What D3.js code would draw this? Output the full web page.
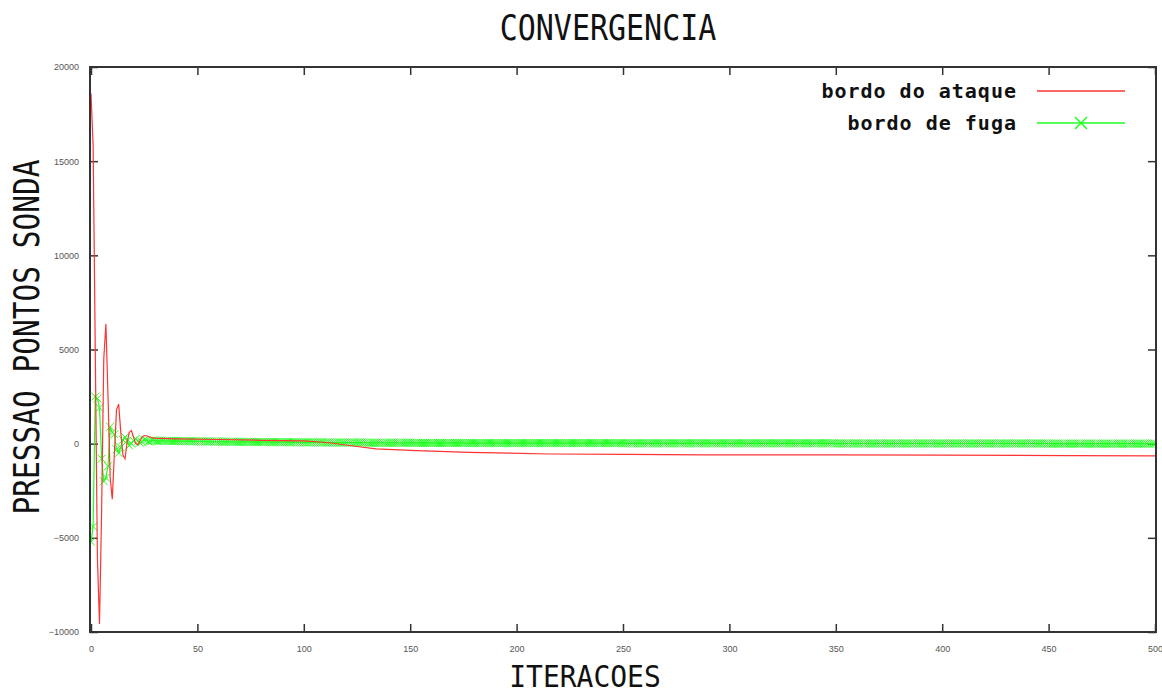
<!DOCTYPE html>
<html lang="pt">
<head>
<meta charset="UTF-8">
<title>Convergencia</title>
<script src="https://d3js.org/d3.v7.min.js"></script>
<style>
  body { margin: 0; background: #fff; }
  svg { display: block; }
  .tick text { font-family: "Liberation Sans", Arial, sans-serif; font-size: 9px; fill: #555; }
  .tick line { stroke: #333; stroke-width: 1.5; }
  .big { font-family: "DejaVu Sans Mono", monospace; fill: #111; }
  .leg { font-family: "DejaVu Sans Mono", monospace; font-size: 20px; font-weight: bold; fill: #111; letter-spacing: 1px; }
</style>
</head>
<body>
<svg id="chart" width="1162" height="695"></svg>
<script>
// tick values
const xTicks = [0, 50, 100, 150, 200, 250, 300, 350, 400, 450, 500];
const yTicks = [-10000, -5000, 0, 5000, 10000, 15000, 20000];

// legend labels
const seriesNames = ["bordo do ataque", "bordo de fuga"];

// bordo do ataque (red) - iteration / pressure pairs
const redIter = [0,1,2,3,4,5,6,7,8,9,10,11,12,13,14,15,16,17,18,19,20,21,22,23,24,25,26,27,28,29,30,
  40,60,80,100,112,125,134,153,178,216,252,288,350,399,460,500];
const redVal = [18600,15800,5000,-6000,-9570,-3500,4500,6350,2500,-1800,-2950,-500,1800,2100,600,-600,-800,100,600,700,350,0,-50,150,350,430,420,380,340,310,290,
  250,220,180,150,50,-150,-280,-370,-460,-550,-570,-590,-600,-610,-630,-650];

// bordo de fuga (green) - one value per iteration, 0..500
const greenVal = [
  -5200,-4400,2500,2400,1900,-800,-2000,-1800,-1200,900,600,500,-300,-500,-200,200,350,150,-100,0,150,250,150,50,100,
  200,180,120,130,170,160,150,150,160,150,140,150,150,140,140,140,140,130,140,130,130,130,130,120,130,
  120,120,120,120,120,110,120,110,110,110,110,110,110,100,110,100,100,100,100,100,100,100,90,100,90,
  90,90,90,90,90,90,90,90,80,90,80,80,80,80,80,80,80,80,80,70,80,70,70,70,70,
  70,70,70,70,70,70,70,70,70,70,60,60,60,60,60,60,60,60,60,60,60,60,60,60,60,
  60,60,60,60,60,50,50,50,50,50,50,50,50,50,50,50,50,50,50,50,50,50,50,50,50,
  50,40,40,40,40,40,40,40,40,40,40,40,40,40,40,40,40,40,40,40,40,40,40,40,40,
  40,30,30,30,30,30,30,30,30,30,30,30,30,30,30,30,30,30,30,30,30,30,30,30,30,
  30,30,30,30,30,30,30,30,30,30,30,30,30,30,30,30,30,30,30,30,30,30,30,30,30,
  30,30,30,30,30,30,30,30,30,30,30,30,30,30,30,30,30,30,30,30,30,30,30,30,30,
  20,20,20,20,20,20,20,20,20,20,20,20,20,20,20,20,20,20,20,20,20,20,20,20,20,
  20,20,20,20,20,20,20,20,20,20,20,20,20,20,20,20,20,20,20,20,20,20,20,20,20,
  20,20,20,20,20,20,20,20,20,20,20,20,20,20,20,20,20,20,20,20,20,20,20,20,20,
  20,20,20,20,20,20,20,20,20,20,20,20,20,20,20,20,20,20,20,20,20,20,20,20,20,
  10,10,10,10,10,10,10,10,10,10,10,10,10,10,10,10,10,10,10,10,10,10,10,10,10,
  10,10,10,10,10,10,10,10,10,10,10,10,10,10,10,10,10,10,10,10,10,10,10,10,10,
  10,10,10,10,10,10,10,10,10,10,10,10,10,10,10,10,10,10,10,10,10,10,10,10,10,
  10,10,10,10,10,10,10,10,10,10,10,10,10,10,10,10,10,10,10,10,10,10,10,10,10,
  0,0,0,0,0,0,0,0,0,0,0,0,0,0,0,0,0,0,0,0,0,0,0,0,0,
  0,0,0,0,0,0,0,0,0,0,0,0,0,0,0,0,0,0,0,0,0,0,0,0,0,
  0
];

const svg = d3.select("#chart");
const pLeft = 90, pRight = 1156, pTop = 67, pBottom = 632;

const x = d3.scaleLinear().domain([0, 500]).range([pLeft + 1, pRight - 1]);
const y = d3.scaleLinear().domain([-10000, 20000]).range([pBottom, pTop]);

const fmt = d3.format("d");

// axes with inward ticks, mirrored on top / right
const ax = svg.append("g");
ax.append("g").attr("transform", `translate(0,${pBottom})`)
  .call(d3.axisBottom(x).tickValues(xTicks).tickFormat(fmt).tickSizeInner(-8).tickSizeOuter(0).tickPadding(14))
  .call(g => g.select(".domain").remove());
ax.append("g").attr("transform", `translate(0,${pTop})`)
  .call(d3.axisTop(x).tickValues(xTicks).tickSizeInner(-8).tickSizeOuter(0).tickFormat(""))
  .call(g => g.select(".domain").remove());
ax.append("g").attr("transform", `translate(${pLeft},0)`)
  .call(d3.axisLeft(y).tickValues(yTicks).tickFormat(fmt).tickSizeInner(-8).tickSizeOuter(0).tickPadding(11))
  .call(g => g.select(".domain").remove());
ax.append("g").attr("transform", `translate(${pRight},0)`)
  .call(d3.axisRight(y).tickValues(yTicks).tickSizeInner(-8).tickSizeOuter(0).tickFormat(""))
  .call(g => g.select(".domain").remove());

svg.append("clipPath").attr("id", "clip")
  .append("rect").attr("x", pLeft).attr("y", pTop).attr("width", pRight - pLeft).attr("height", pBottom - pTop);

const plot = svg.append("g").attr("clip-path", "url(#clip)");

const red = redIter.map((d, i) => [d, redVal[i]]);
const green = greenVal.map((v, i) => [i, v]);

const line = d3.line().x(d => x(d[0])).y(d => y(d[1]));

const greenColor = "#22ff22", redColor = "#ff3333";

plot.append("path").datum(green)
  .attr("d", line).attr("fill", "none")
  .attr("stroke", greenColor).attr("stroke-width", 1.2);

// X markers for the green series
const m = 4;
plot.append("path")
  .attr("d", green.map(d => {
    const px = x(d[0]), py = y(d[1]);
    return `M${px - m},${py - m}L${px + m},${py + m}M${px - m},${py + m}L${px + m},${py - m}`;
  }).join(""))
  .attr("fill", "none").attr("stroke", greenColor).attr("stroke-width", 1);

plot.append("path").datum(red)
  .attr("d", line).attr("fill", "none")
  .attr("stroke", redColor).attr("stroke-width", 1.2);

// frame
svg.append("rect").attr("x", pLeft).attr("y", pTop)
  .attr("width", pRight - pLeft).attr("height", pBottom - pTop)
  .attr("fill", "none").attr("stroke", "#333").attr("stroke-width", 2);

// titles
svg.append("text").attr("class", "big")
  .attr("transform", "translate(608,40) scale(1,1.19)")
  .attr("text-anchor", "middle").style("font-size", "30px")
  .text("CONVERGENCIA");
svg.append("text").attr("class", "big")
  .attr("transform", "translate(585,687) scale(1,1.05)")
  .attr("text-anchor", "middle").style("font-size", "28px")
  .text("ITERACOES");
svg.append("text").attr("class", "big")
  .attr("transform", "translate(39,337) rotate(-90) scale(1.0,1.19)")
  .attr("text-anchor", "middle").style("font-size", "29.5px")
  .text("PRESSAO PONTOS SONDA");

// legend
const legY = [91, 123];
const leg = svg.append("g");
seriesNames.forEach((name, i) => {
  leg.append("text").attr("class", "leg")
    .attr("x", 1017).attr("y", legY[i] + 7)
    .attr("text-anchor", "end").text(name);
  leg.append("line")
    .attr("x1", 1037).attr("x2", 1125).attr("y1", legY[i]).attr("y2", legY[i])
    .attr("stroke", i === 0 ? redColor : greenColor).attr("stroke-width", 1.5);
});
leg.append("path")
  .attr("d", `M${1081 - 6},${legY[1] - 6}L${1081 + 6},${legY[1] + 6}M${1081 - 6},${legY[1] + 6}L${1081 + 6},${legY[1] - 6}`)
  .attr("stroke", greenColor).attr("stroke-width", 1.5);
</script>
</body>
</html>
